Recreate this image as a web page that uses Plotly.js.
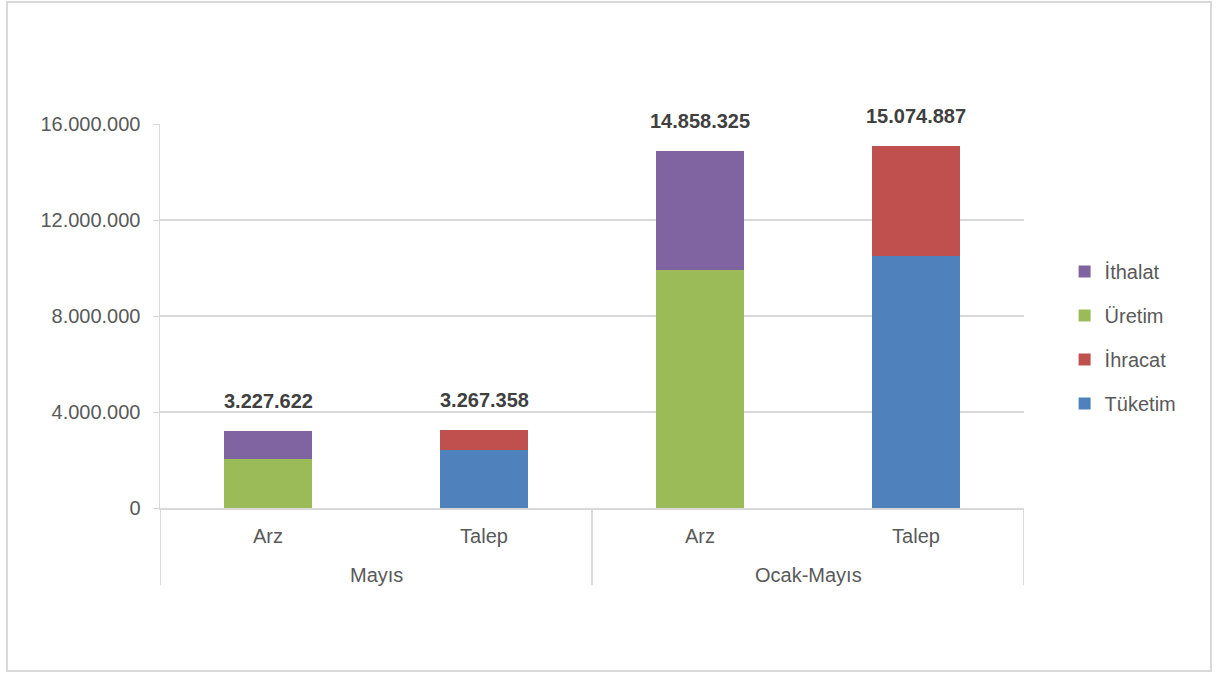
<!DOCTYPE html>
<html>
<head>
<meta charset="utf-8">
<script src="https://cdn.plot.ly/plotly-3.0.1.min.js"></script>
<style>
  html, body { margin: 0; padding: 0; background: #fff; }
  #wrap { position: relative; width: 1217px; height: 675px; }
  #chart { width: 1217px; height: 675px; }
  #frame { position: absolute; left: 6px; top: 1px; width: 1206px; height: 671px;
           border: 2px solid #d9d9d9; box-sizing: border-box; pointer-events: none; }
</style>
</head>
<body>
<div id="wrap">
  <div id="chart"></div>
  <div id="frame"></div>
</div>
<script>
// ---- data ----
const groups = ["Mayıs", "Mayıs", "Ocak-Mayıs", "Ocak-Mayıs"];
const kinds = ["Arz", "Talep", "Arz", "Talep"];
const uretim   = [2040000, null, 9920000, null];
const ithalat  = [1187622, null, 4938325, null];
const tuketim  = [null, 2420000, null, 10500000];
const ihracat  = [null, 847358, null, 4574887];
const totals   = [3227622, 3267358, 14858325, 15074887];
const yTicks   = [0, 4000000, 8000000, 12000000, 16000000];

function fmt(n) {
  return String(n).replace(/\B(?=(\d{3})+(?!\d))/g, ".");
}

// composite category keys, shown with the kind label only
const keys = groups.map((g, i) => g + " | " + kinds[i]);
const font = "Liberation Sans, Arial, sans-serif";

function bar(name, vals, color, rank) {
  return {
    type: "bar", name: name, x: keys, y: vals,
    marker: { color: color }, legendgroup: name, legendrank: rank,
    hoverinfo: "skip"
  };
}

const traces = [
  bar("Tüketim", tuketim, "#4F81BD", 4),
  bar("İhracat", ihracat, "#C0504D", 3),
  bar("Üretim", uretim, "#9BBB59", 2),
  bar("İthalat", ithalat, "#8064A2", 1)
];

const annotations = totals.map((t, i) => ({
  xref: "x", yref: "y", x: keys[i], y: t,
  text: "<b>" + fmt(t) + "</b>",
  showarrow: false, yanchor: "bottom", yshift: 17,
  font: { family: font, size: 20, color: "#404040" }
}));

// group labels and dividers from the group list
const shapes = [];
const groupNames = [...new Set(groups)];
const lineStyle = { color: "#d9d9d9", width: 2 };
shapes.push({ type: "line", xref: "x", yref: "paper", x0: -0.5, x1: -0.5, y0: 0, y1: -0.2, line: lineStyle });
groupNames.forEach(g => {
  const idx = groups.map((v, i) => v === g ? i : -1).filter(i => i >= 0);
  const first = idx[0], last = idx[idx.length - 1];
  annotations.push({
    xref: "x", yref: "paper", x: (first + last) / 2, y: -0.174,
    text: g, showarrow: false, yanchor: "middle",
    font: { family: font, size: 20, color: "#595959" }
  });
  shapes.push({ type: "line", xref: "x", yref: "paper", x0: last + 0.5, x1: last + 0.5, y0: 0, y1: -0.2, line: lineStyle });
});

const layout = {
  width: 1217, height: 675,
  margin: { l: 160, r: 193, t: 124, b: 167 },
  paper_bgcolor: "#fff", plot_bgcolor: "#fff",
  barmode: "stack", bargap: 0.59,
  font: { family: font, size: 20, color: "#595959" },
  showlegend: true,
  legend: {
    x: 1.047, xanchor: "left", y: 0.444, yanchor: "middle",
    traceorder: "grouped", tracegroupgap: 15,
    font: { family: font, size: 20, color: "#595959" }
  },
  xaxis: {
    type: "category", range: [-0.5, keys.length - 0.5],
    tickvals: keys, ticktext: kinds,
    showline: true, linecolor: "#d9d9d9", linewidth: 2,
    ticks: "", ticklabelstandoff: 9,
    tickfont: { family: font, size: 20, color: "#595959" },
    showgrid: false, zeroline: false
  },
  yaxis: {
    range: [0, 16000000],
    tickvals: yTicks, ticktext: yTicks.map(fmt),
    showgrid: true, gridcolor: "#d9d9d9", gridwidth: 1.5,
    showline: true, linecolor: "#d9d9d9", linewidth: 1.5,
    ticks: "outside", ticklen: 6, tickcolor: "#d9d9d9",
    ticklabelstandoff: 8,
    zeroline: false,
    tickfont: { family: font, size: 20, color: "#595959" }
  },
  annotations: annotations,
  shapes: shapes
};

Plotly.newPlot("chart", traces, layout, { displayModeBar: false, staticPlot: true });
</script>
</body>
</html>
